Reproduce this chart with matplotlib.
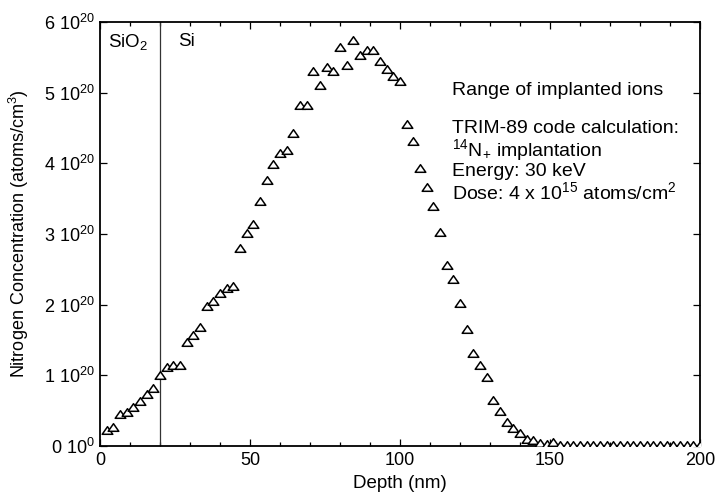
import matplotlib
matplotlib.use("Agg")
import matplotlib.pyplot as plt
from matplotlib.path import Path
from matplotlib.ticker import MultipleLocator

plt.rcParams['font.family'] = ['Liberation Sans', 'DejaVu Sans']
plt.rcParams['mathtext.fontset'] = 'custom'
plt.rcParams['mathtext.rm'] = 'Liberation Sans'
plt.rcParams['mathtext.it'] = 'Liberation Sans:italic'
plt.rcParams['mathtext.bf'] = 'Liberation Sans:bold'
plt.rcParams['mathtext.default'] = 'regular'

# Depth (nm)
depth = [2.2, 4.4, 6.7, 8.9, 11.1, 13.3, 15.6, 17.8, 20.0, 22.2,
         24.4, 26.7, 28.9, 31.1, 33.3, 35.6, 37.8, 40.0, 42.2, 44.4,
         46.7, 48.9, 51.1, 53.3, 55.6, 57.8, 60.0, 62.2, 64.4, 66.7,
         68.9, 71.1, 73.3, 75.6, 77.8, 80.0, 82.2, 84.4, 86.7, 88.9,
         91.1, 93.3, 95.6, 97.8, 100.0, 102.2, 104.4, 106.7, 108.9, 111.1,
         113.3, 115.6, 117.8, 120.0, 122.2, 124.4, 126.7, 128.9, 131.1, 133.3,
         135.6, 137.8, 140.0, 142.2, 144.4, 146.7, 148.9, 151.1, 153.3, 155.6,
         157.8, 160.0, 162.2, 164.4, 166.7, 168.9, 171.1, 173.3, 175.6, 177.8,
         180.0, 182.2, 184.4, 186.7, 188.9, 191.1, 193.3, 195.6, 197.8, 200.0]
# Nitrogen concentration (units of 1e20 atoms/cm^3)
conc = [0.23, 0.27, 0.45, 0.48, 0.55, 0.64, 0.73, 0.82, 1.01, 1.12,
        1.14, 1.15, 1.47, 1.57, 1.68, 1.98, 2.05, 2.16, 2.23, 2.27,
        2.80, 3.01, 3.14, 3.47, 3.76, 3.99, 4.15, 4.19, 4.43, 4.83,
        4.83, 5.30, 5.11, 5.36, 5.31, 5.65, 5.39, 5.75, 5.54, 5.61,
        5.61, 5.45, 5.33, 5.24, 5.17, 4.55, 4.31, 3.94, 3.66, 3.39,
        3.03, 2.56, 2.36, 2.02, 1.65, 1.32, 1.14, 0.97, 0.65, 0.50,
        0.34, 0.25, 0.18, 0.10, 0.08, 0.04, 0.03, 0.05, 0.02, 0.01,
        0.01, 0.01, 0.01, 0.01, 0.01, 0.01, 0.01, 0.01, 0.01, 0.01,
        0.01, 0.01, 0.01, 0.01, 0.01, 0.01, 0.01, 0.01, 0.01, 0.01]

xticks = [0, 50, 100, 150, 200]
yticks = [0, 1, 2, 3, 4, 5, 6]
ytick_labels = [r'0 10$^{0}$', r'1 10$^{20}$', r'2 10$^{20}$', r'3 10$^{20}$',
                r'4 10$^{20}$', r'5 10$^{20}$', r'6 10$^{20}$']
interface = 20.0

fig = plt.figure(figsize=(7.2, 4.92), dpi=100)
ax = fig.add_axes([100/720, 1 - 446/492, 600/720, 424/492])

tri = Path([(-1.0, -0.72), (1.0, -0.72), (0.0, 0.72), (-1.0, -0.72)],
           [Path.MOVETO, Path.LINETO, Path.LINETO, Path.CLOSEPOLY])
ax.plot(depth, conc, linestyle='none', marker=tri, markersize=7.6,
        markerfacecolor='white', markeredgecolor='black', markeredgewidth=1.1,
        clip_on=True, zorder=3)

ax.axvline(interface, color='#333333', linewidth=0.9, zorder=2)

ax.set_xlim(0, 200)
ax.set_ylim(0, 6)
ax.set_xticks(xticks)
ax.xaxis.set_minor_locator(MultipleLocator(10))
ax.set_yticks(yticks)
ax.set_yticklabels(ytick_labels)
ax.tick_params(which='both', direction='in', top=True, right=True,
               labelsize=13, width=0.9)
ax.tick_params(which='major', length=5, pad=4)
ax.tick_params(which='minor', length=3)
for s in ax.spines.values():
    s.set_linewidth(1.3)

ax.set_xlabel('Depth (nm)', fontsize=13.5, labelpad=5)
ax.set_ylabel(r'Nitrogen Concentration (atoms/cm$^{3}$)', fontsize=13, labelpad=9)

fs = 14
ax.text(2.7, 5.72, r'SiO$_{2}$', fontsize=13.5, va='center', ha='left')
ax.text(26, 5.72, 'Si', fontsize=13.5, va='center', ha='left')
ax.text(117.3, 5.03, 'Range of implanted ions', fontsize=fs, va='center', ha='left')
ax.text(117.3, 4.49, 'TRIM-89 code calculation:', fontsize=fs, va='center', ha='left')
ax.text(117.3, 4.19, r'$^{14}$N$_{+}$ implantation', fontsize=fs, va='center', ha='left')
ax.text(117.3, 3.89, 'Energy: 30 keV', fontsize=fs, va='center', ha='left')
ax.text(117.3, 3.59, r'Dose: 4 x 10$^{15}$ atoms/cm$^{2}$', fontsize=fs, va='center', ha='left')

fig.savefig('out.png', dpi=100)
